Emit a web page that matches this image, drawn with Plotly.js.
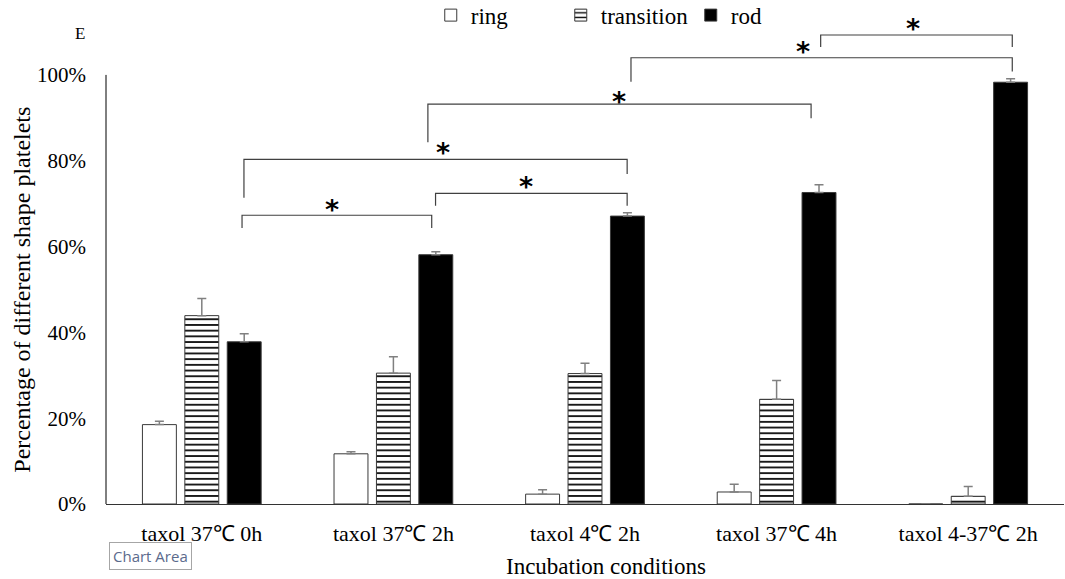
<!DOCTYPE html>
<html>
<head>
<meta charset="utf-8">
<script src="https://cdn.plot.ly/plotly-3.0.1.min.js"></script>
<style>html,body{margin:0;padding:0;background:#fff;}#chart{width:1065px;height:579px;}</style>
</head>
<body>
<div id="chart"></div>
<script>
// ---- data ----
const categories = ["taxol 37℃ 0h", "taxol 37℃ 2h", "taxol 4℃ 2h", "taxol 37℃ 4h", "taxol 4-37℃ 2h"];
const seriesNames = ["ring", "transition", "rod"];
const ringValues = [18.5, 11.7, 2.3, 2.8, 0];
const ringErrors = [0.8, 0.5, 1.0, 1.8, 0];
const transitionValues = [43.9, 30.5, 30.4, 24.4, 1.8];
const transitionErrors = [4.0, 3.8, 2.4, 4.4, 2.3];
const rodValues = [37.8, 58.1, 67.1, 72.6, 98.3];
const rodErrors = [1.9, 0.7, 0.8, 1.8, 0.8];
const yTickValues = [0, 20, 40, 60, 80, 100];
const yTickLabels = ["0%", "20%", "40%", "60%", "80%", "100%"];
// significance brackets: [x start, x end (category index units), bar height, left leg end, right leg end, star x, star y]
const brackets = [
  [0.21, 1.20, 67.3, 64.3, 64.3, 0.68, 69.4],
  [0.22, 2.22, 80.3, 71.4, 76.9, 1.26, 82.6],
  [1.22, 2.22, 72.4, 69.5, 69.5, 1.69, 74.6],
  [1.18, 3.18, 93.2, 84.3, 89.9, 2.18, 94.4],
  [2.24, 4.23, 104.0, 98.4, 100.8, 3.14, 106.1],
  [3.23, 4.23, 109.3, 106.5, 106.5, 3.71, 111.5]
];

const serif = "Liberation Serif";
const outline = {color: "#3a3a3a", width: 1};
const errStyle = (arr) => ({type: "data", symmetric: false, array: arr, arrayminus: arr.map(() => 0),
  color: "#808080", thickness: 1.5, width: 4.5});

const traces = [
  {type: "bar", name: seriesNames[0], x: categories, y: ringValues, error_y: errStyle(ringErrors),
   marker: {color: "#ffffff", line: outline}},
  {type: "bar", name: seriesNames[1], x: categories, y: transitionValues, error_y: errStyle(transitionErrors),
   marker: {color: "#ffffff", line: outline,
            pattern: {shape: "-", fgcolor: "#000000", bgcolor: "#ffffff", size: 5.7, solidity: 0.3, fillmode: "replace"}}},
  {type: "bar", name: seriesNames[2], x: categories, y: rodValues, error_y: errStyle(rodErrors),
   marker: {color: "#000000", line: outline}}
];

const shapes = [
  {type: "line", xref: "paper", yref: "y", x0: 0, x1: 0, y0: 0, y1: 100, line: {color: "#000", width: 1}}
];
const annotations = [];
brackets.forEach(b => {
  const [xa, xb, yh, la, lb, sx, sy] = b;
  shapes.push({type: "path", xref: "x", yref: "y",
    path: `M ${xa},${la} L ${xa},${yh} L ${xb},${yh} L ${xb},${lb}`,
    line: {color: "#404040", width: 1.2}});
  annotations.push({xref: "x", yref: "y", x: sx, y: sy, text: "<b>*</b>", showarrow: false,
    font: {family: "DejaVu Sans", size: 27, color: "#000000"}, yanchor: "middle", yshift: -3});
});
annotations.push({xref: "paper", yref: "paper", x: -0.027, y: 0.973, xanchor: "center", yanchor: "middle",
  text: "E", showarrow: false, font: {family: serif, size: 17, color: "#000"}});
annotations.push({xref: "paper", yref: "paper", x: -0.088, y: (504 - 290) / 484, xanchor: "center", yanchor: "middle",
  textangle: -90, text: "Percentage of different shape platelets", showarrow: false,
  font: {family: serif, size: 24, color: "#000"}});
annotations.push({xref: "paper", yref: "paper", x: (606 - 106) / 958, y: (504 - 566) / 484, xanchor: "center", yanchor: "middle",
  text: "Incubation conditions", showarrow: false,
  font: {family: serif, size: 23, color: "#000"}});
annotations.push({xref: "paper", yref: "paper", x: 0.003, y: -0.079, xanchor: "left", yanchor: "top",
  text: "Chart Area", showarrow: false,
  font: {family: "Open Sans", size: 15, color: "#5b6a8c"},
  bgcolor: "#ffffff", bordercolor: "#a6a6a6", borderwidth: 1, borderpad: 3});

const layout = {
  width: 1065, height: 579,
  margin: {l: 106, r: 1, t: 20, b: 75, autoexpand: false},
  paper_bgcolor: "#ffffff", plot_bgcolor: "#ffffff",
  barmode: "group", bargap: 0.336, bargroupgap: 0.2,
  font: {family: serif, size: 21, color: "#000"},
  showlegend: true,
  legend: {orientation: "h", x: 0.339, xanchor: "left", y: 1.01, yanchor: "middle",
    entrywidth: 85, entrywidthmode: "pixels",
    font: {family: serif, size: 23, color: "#000"}, bgcolor: "rgba(0,0,0,0)"},
  xaxis: {type: "category", showline: true, linecolor: "#333", linewidth: 1, showgrid: false, zeroline: false,
    ticks: "", ticklabelstandoff: 10, tickfont: {family: serif, size: 22, color: "#000"}},
  yaxis: {range: [0, 112.8], showline: false, showgrid: false, zeroline: false, ticks: "",
    tickvals: yTickValues, ticktext: yTickLabels, ticklabelstandoff: 19,
    tickfont: {family: serif, size: 21, color: "#000"}},
  shapes: shapes,
  annotations: annotations
};

Plotly.newPlot("chart", traces, layout, {staticPlot: true, displayModeBar: false});
</script>
</body>
</html>
